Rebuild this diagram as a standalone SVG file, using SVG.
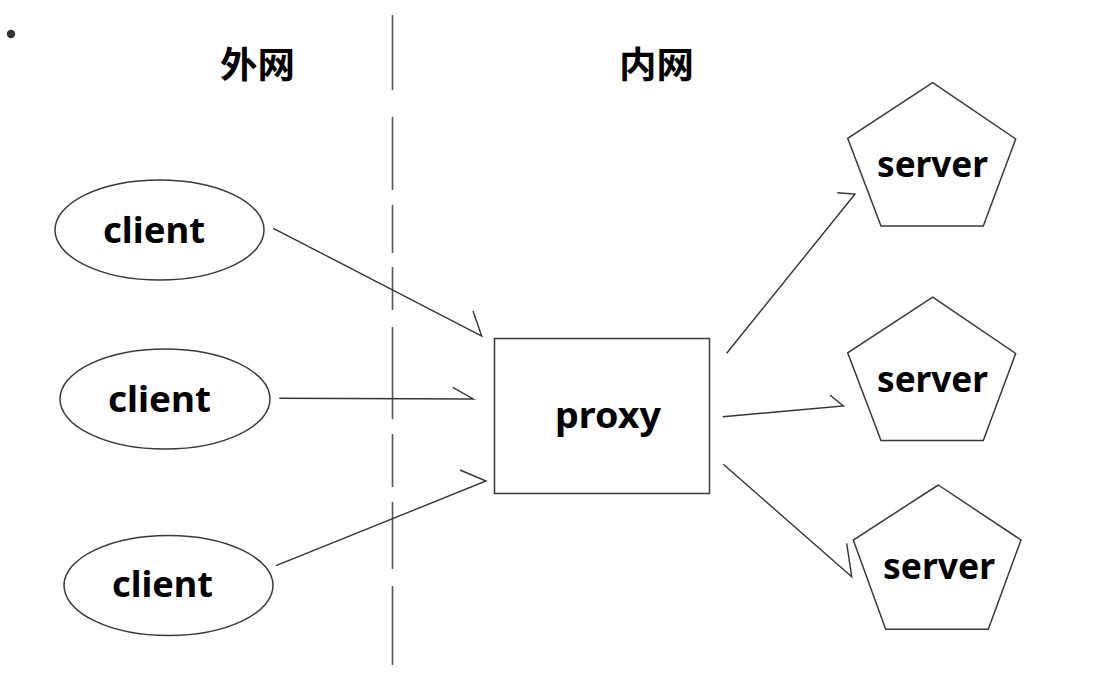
<svg xmlns="http://www.w3.org/2000/svg" width="1108" height="682" viewBox="0 0 1108 682">
<style>
.shape{fill:#fff;stroke:#3a3a3a;stroke-width:1.5}
.lbl{font-family:"Noto Sans","Open Sans","DejaVu Sans",sans-serif;font-weight:bold;font-size:36px;fill:#000}
.cjk{font-family:"Noto Sans CJK SC","Noto Sans",sans-serif;font-weight:bold;font-size:36px;fill:#000}
.div{stroke:#555;stroke-width:1.6;fill:none}
.conn line,.conn polyline{stroke:#333;stroke-width:1.4;fill:none}
</style>
<rect width="1108" height="682" fill="#fff"/>
<circle cx="11" cy="34" r="4.2" fill="#333"/>
<g id="divider" class="div">
<line x1="392.5" y1="15" x2="392.5" y2="90"/>
<line x1="392.5" y1="117" x2="392.5" y2="190"/>
<line x1="392.5" y1="205" x2="392.5" y2="253"/>
<line x1="392.5" y1="267" x2="392.5" y2="310"/>
<line x1="392.5" y1="327" x2="392.5" y2="419"/>
<line x1="392.5" y1="434" x2="392.5" y2="487"/>
<line x1="392.5" y1="502" x2="392.5" y2="569"/>
<line x1="392.5" y1="586" x2="392.5" y2="665"/>
</g>
<g id="label-outer"><text class="cjk" x="220" y="78" textLength="75" lengthAdjust="spacingAndGlyphs">外网</text></g>
<g id="label-inner"><text class="cjk" x="619" y="78" textLength="75" lengthAdjust="spacingAndGlyphs">内网</text></g>
<g id="client1">
<ellipse class="shape" cx="159.5" cy="230" rx="104.5" ry="50"/>
<text class="lbl" x="103" y="243" textLength="102" lengthAdjust="spacingAndGlyphs">client</text>
</g>
<g id="client2">
<ellipse class="shape" cx="165" cy="399" rx="105" ry="50"/>
<text class="lbl" x="108" y="412" textLength="103" lengthAdjust="spacingAndGlyphs">client</text>
</g>
<g id="client3">
<ellipse class="shape" cx="168.5" cy="585.5" rx="104.5" ry="50"/>
<text class="lbl" x="112" y="597" textLength="101" lengthAdjust="spacingAndGlyphs">client</text>
</g>
<g id="proxy">
<rect class="shape" x="494.5" y="338.5" width="215" height="155"/>
<text class="lbl" x="555" y="428" textLength="106" lengthAdjust="spacingAndGlyphs">proxy</text>
</g>
<g id="server1">
<polygon class="shape" points="932.7,82.7 1015.7,139 983.3,226 881,226 847.7,138.3"/>
<text class="lbl" x="877" y="177" textLength="111" lengthAdjust="spacingAndGlyphs">server</text>
</g>
<g id="server2">
<polygon class="shape" points="932.7,297.2 1015.7,353.5 983.3,440.5 881,440.5 847.7,352.8"/>
<text class="lbl" x="877" y="392" textLength="111" lengthAdjust="spacingAndGlyphs">server</text>
</g>
<g id="server3">
<polygon class="shape" points="938.3,485 1021,540 988.3,629.3 885.7,629.3 853.3,540"/>
<text class="lbl" x="883" y="579" textLength="112" lengthAdjust="spacingAndGlyphs">server</text>
</g>
<g id="connectors" class="conn">
<polyline points="273.3,228.3 481.7,336 473,311"/>
<polyline points="279.3,398.3 473.3,399 452.7,387.3"/>
<polyline points="276,565.7 486,481 460,470"/>
<polyline points="726.7,353.3 855,194 837.3,192.7"/>
<polyline points="722.7,416.7 843.3,406 830,395"/>
<polyline points="723.3,464.3 851.7,576.7 846.7,543.3"/>
</g>
</svg>
